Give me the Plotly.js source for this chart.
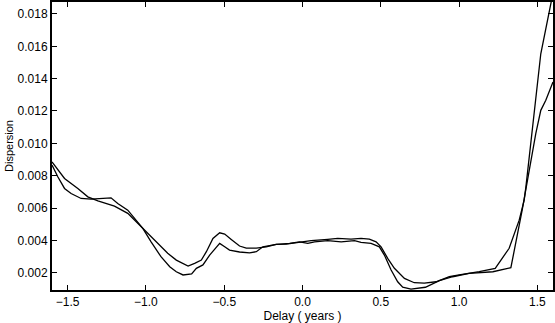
<!DOCTYPE html>
<html>
<head>
<meta charset="utf-8">
<script src="https://cdn.plot.ly/plotly-3.0.1.min.js"></script>
<style>
  html, body { margin: 0; padding: 0; background: #fff; }
  #graph { width: 555px; height: 323px; }
</style>
</head>
<body>
<div id="graph"></div>
<script>
// first curve (kinks up at ~1.23, runs off the top)
const delayA = [-1.6, -1.52, -1.435, -1.371, -1.307, -1.201, -1.116, -1.02, -0.925, -0.861,
  -0.806, -0.731, -0.689, -0.646, -0.614, -0.572, -0.529, -0.497, -0.455, -0.402,
  -0.359, -0.295, -0.232, -0.168, -0.104, -0.019, 0.055, 0.161, 0.225, 0.31,
  0.374, 0.427, 0.47, 0.502, 0.544, 0.587, 0.651, 0.714, 0.778, 0.853,
  0.9375, 1.001, 1.065, 1.129, 1.231, 1.32, 1.384, 1.416, 1.427, 1.522, 1.6];
const dispA = [0.00885, 0.00783, 0.00721, 0.00669, 0.00644, 0.00612, 0.00567, 0.00474, 0.00381, 0.0032,
  0.00278, 0.00241, 0.00258, 0.00278, 0.0033, 0.00412, 0.00447, 0.00439, 0.00406, 0.00365,
  0.00352, 0.00352, 0.0036, 0.00375, 0.00377, 0.00388, 0.00398, 0.00406, 0.00412, 0.00408,
  0.00412, 0.00408, 0.00391, 0.0036, 0.00289, 0.00227, 0.00165, 0.00138, 0.00135, 0.00144,
  0.00175, 0.00186, 0.00196, 0.00206, 0.00227, 0.00351, 0.00525, 0.00649, 0.00731, 0.01554, 0.0193];

// second curve (sharp rise at ~1.33, flattens to ~0.0138)
const delayB = [-1.6, -1.563, -1.52, -1.478, -1.414, -1.35, -1.223, -1.18, -1.116, -1.052,
  -1.02, -0.967, -0.904, -0.848, -0.806, -0.763, -0.708, -0.678, -0.636, -0.593,
  -0.566, -0.529, -0.497, -0.466, -0.402, -0.338, -0.295, -0.253, -0.168, -0.083,
  -0.019, 0.034, 0.077, 0.161, 0.247, 0.332, 0.374, 0.438, 0.491, 0.523,
  0.566, 0.608, 0.64, 0.693, 0.785, 0.874, 0.959, 1.065, 1.216, 1.331,
  1.403, 1.459, 1.49, 1.522, 1.554, 1.6];
const dispB = [0.00865, 0.00793, 0.00721, 0.0069, 0.00659, 0.00655, 0.00663, 0.00628, 0.00587, 0.00515,
  0.00474, 0.00391, 0.00299, 0.00237, 0.00206, 0.00186, 0.00192, 0.00227, 0.00248, 0.00309,
  0.0034, 0.00381, 0.0036, 0.0034, 0.00328, 0.00323, 0.0033, 0.0036, 0.00375, 0.00381,
  0.00391, 0.00381, 0.00391, 0.00398, 0.00391, 0.00398, 0.00388, 0.00381, 0.0036, 0.00309,
  0.00217, 0.00144, 0.0011, 0.00099, 0.0011, 0.00151, 0.00175, 0.00196, 0.00206, 0.00231,
  0.00587, 0.00896, 0.0106, 0.01204, 0.01266, 0.01379];

const xTicks = [-1.5, -1.0, -0.5, 0.0, 0.5, 1.0, 1.5];
const yTicks = [0.002, 0.004, 0.006, 0.008, 0.010, 0.012, 0.014, 0.016, 0.018];

const font = { family: "Liberation Sans, Arial, sans-serif", size: 12, color: "#000" };

let data = [
  { x: delayA, y: dispA, type: "scatter", mode: "lines", line: { color: "#000", width: 1.3 } },
  { x: delayB, y: dispB, type: "scatter", mode: "lines", line: { color: "#000", width: 1.3 } },
];

let layout = {
  width: 555,
  height: 323,
  showlegend: false,
  paper_bgcolor: "#fff",
  plot_bgcolor: "#fff",
  font: font,
  margin: { l: 52, r: 2, t: 2, b: 33 },
  xaxis: {
    range: [-1.6, 1.6],
    tickvals: xTicks,
    tickformat: ".1f",
    ticks: "inside",
    ticklen: 5,
    tickwidth: 1,
    tickcolor: "#000",
    showline: true,
    linewidth: 2,
    linecolor: "#000",
    mirror: "ticks",
    showgrid: false,
    zeroline: false,
    title: { text: "Delay ( years )", font: font, standoff: 4 },
  },
  yaxis: {
    range: [0.00093, 0.01874],
    tickvals: yTicks,
    tickformat: ".3f",
    ticks: "inside",
    ticklen: 5,
    tickwidth: 1,
    tickcolor: "#000",
    showline: true,
    linewidth: 2,
    linecolor: "#000",
    mirror: "ticks",
    showgrid: false,
    zeroline: false,
    title: { text: "Dispersion", font: { family: font.family, size: 11, color: "#000" }, standoff: 2 },
  },
};

Plotly.newPlot("graph", data, layout, { displayModeBar: false, staticPlot: true });
</script>
</body>
</html>
